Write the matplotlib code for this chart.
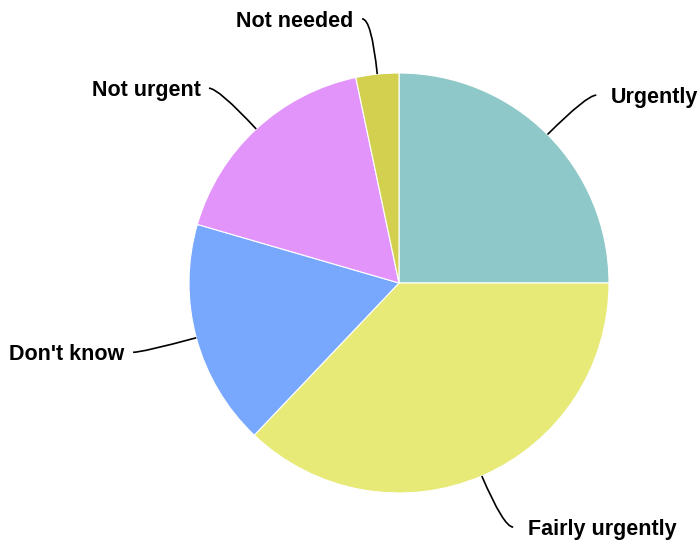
import numpy as np
import matplotlib.pyplot as plt
from matplotlib.path import Path
from matplotlib.patches import PathPatch

# ----------------------------------------------------------------------------------------------------------------------

labels = ['Urgently', 'Fairly urgently', "Don't know", 'Not urgent', 'Not needed']
shares = [25.0, 37.1, 17.4, 17.2, 3.3]
colors = ['#8ec8c9', '#e8ea77', '#77a8fe', '#e294fa', '#d3d04f']

# ----------------------------------------------------------------------------------------------------------------------

plt.rcParams['font.family'] = ['Liberation Sans', 'DejaVu Sans']

fig = plt.figure(figsize=(7.0, 5.43), dpi=100)
ax = fig.add_axes([0, 0, 1, 1])

wedges, _ = ax.pie(shares, colors=colors, startangle=90, counterclock=False, radius=1.0,
                   wedgeprops=dict(edgecolor='white', linewidth=0.8))

# pie centre sits at (399, 283) px, radius 210 px
ax.set_xlim(-399 / 210, (700 - 399) / 210)
ax.set_ylim(-(543 - 283) / 210, 283 / 210)
ax.set_aspect('equal')
ax.axis('off')

for w, lab in zip(wedges, labels):
    mid = np.deg2rad((w.theta1 + w.theta2) / 2)
    dx, dy = np.cos(mid), np.sin(mid)
    start = np.array([dx, dy])
    end = 1.265 * np.array([dx, dy])
    # control point: where the radial line reaches the label's height
    t = (end[1] - start[1]) / dy if abs(dy) > 1e-6 else 0.2
    ctrl = start + t * np.array([dx, dy])
    side = 1 if dx >= 0 else -1
    end = np.array([ctrl[0] + side * 0.045, end[1]])
    path = Path([start, ctrl, end], [Path.MOVETO, Path.CURVE3, Path.CURVE3])
    ax.add_patch(PathPatch(path, fill=False, edgecolor='black', linewidth=1.2))
    gap = 0.07 if side > 0 else 0.04
    ax.text(end[0] + side * gap, end[1], lab, ha='left' if side > 0 else 'right', va='center_baseline',
            fontsize=15.5, fontweight='bold', color='black')

fig.savefig('out.png', dpi=100)
